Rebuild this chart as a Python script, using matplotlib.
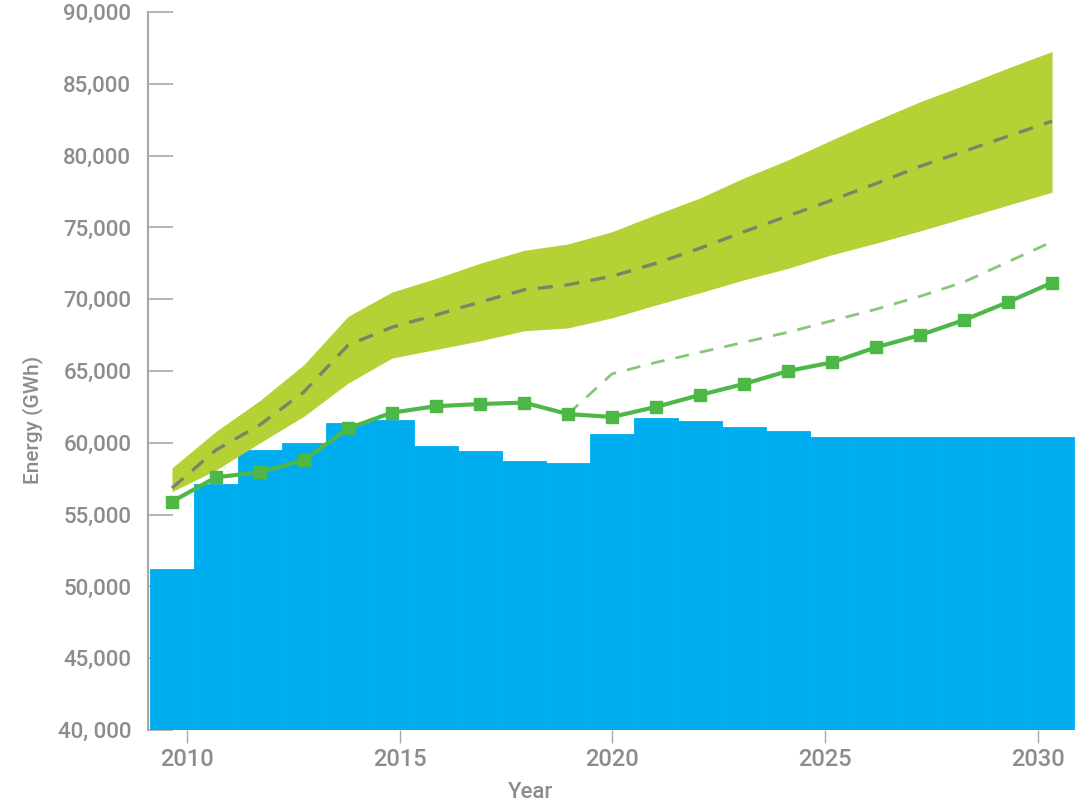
import matplotlib
matplotlib.use("Agg")
import matplotlib.pyplot as plt
import numpy as np

# ---------------- data ----------------
years = list(range(2010, 2031))

# blue stepped bars (supply)
bar_values = [51200, 57100, 59500, 60000, 61400, 61600, 59800, 59400, 58700, 58600,
              60600, 61700, 61500, 61100, 60800, 60400, 60400, 60400, 60400, 60400, 60400]

# green line with square markers
line_values = [55900, 57600, 57950, 58800, 61000, 62100, 62550, 62700, 62800, 62000,
               61800, 62500, 63330, 64100, 65000, 65600, 66650, 67500, 68550, 69800, 71150]

# light green dashed projection (from 2019)
proj_years = list(range(2019, 2031))
proj_values = [62000, 64800, 65600, 66300, 67000, 67700, 68500, 69300, 70200, 71200, 72600, 74000]

# band (range) and its central dashed line
band_upper = [58250, 60800, 62950, 65450, 68800, 70500, 71450, 72500, 73400, 73850,
              74700, 75900, 77050, 78450, 79700, 81100, 82450, 83750, 84900, 86100, 87250]
band_lower = [56600, 58100, 60000, 61850, 64150, 65900, 66500, 67100, 67800, 68000,
              68700, 69600, 70450, 71350, 72150, 73100, 73900, 74750, 75650, 76550, 77450]
band_mid = [56850, 59500, 61250, 63550, 66800, 68050, 68900, 69800, 70650, 71000,
            71600, 72500, 73550, 74700, 75800, 76900, 78050, 79250, 80300, 81350, 82400]

y_ticks = [40000, 45000, 50000, 55000, 60000, 65000, 70000, 75000, 80000, 85000, 90000]
y_tick_labels = ["40, 000", "45,000", "50,000", "55,000", "60,000", "65,000",
                 "70,000", "75,000", "80,000", "85,000", "90,000"]
x_tick_labels = ["2010", "2015", "2020", "2025", "2030"]

# ---------------- style ----------------
BLUE = "#00AEEF"
BAND = "#B4D236"
LINE_GREEN = "#4DB848"
PROJ_GREEN = "#86C77A"
MID_GRAY = "#7A8468"
TEXT_GRAY = "#8C8C8C"
AXIS_GRAY = "#A8A8A8"

plt.rcParams['font.family'] = ['Roboto', 'DejaVu Sans']

fig = plt.figure(figsize=(10.78, 8.07), dpi=100)
ax = fig.add_axes([148 / 1078, 77 / 807, 930 / 1078, 718 / 807])
ax.set_axisbelow(True)

# bars
ax.bar(years, bar_values, width=1.0, color=BLUE, edgecolor=BLUE, linewidth=0.6, zorder=1)

# band
ax.fill_between(years, band_lower, band_upper, color=BAND, linewidth=0, zorder=2)
ax.plot(years, band_mid, color=MID_GRAY, linewidth=2.4, dashes=(4.5, 3.5), zorder=3)

# projection dashed
ax.plot(proj_years, proj_values, color=PROJ_GREEN, linewidth=2.0, dashes=(5, 4), zorder=3)

# main line
ax.plot(years, line_values, color=LINE_GREEN, linewidth=3.0, marker='s', markersize=9,
        markerfacecolor=LINE_GREEN, markeredgecolor=LINE_GREEN, zorder=4)

# axes limits
ax.set_xlim(2009.455, 2030.59)
ax.set_ylim(40000, 90000)

# y axis
ax.set_yticks(y_ticks)
ax.set_yticklabels(y_tick_labels, fontweight='medium')
ax.tick_params(axis='y', direction='in', length=18, width=1.2, color=AXIS_GRAY,
               labelsize=16, labelcolor=TEXT_GRAY, pad=12)

# x axis ticks (label positions as drawn in the original artwork)
tick_years = np.array([int(t) for t in x_tick_labels])
tick_pos = 2010.34 + (tick_years - 2010) * 0.967
ax.set_xticks(tick_pos)
ax.set_xticklabels(x_tick_labels, fontweight='medium')
ax.tick_params(axis='x', direction='out', length=9, width=1.0, color=AXIS_GRAY,
               labelsize=17, labelcolor=TEXT_GRAY, pad=4)

for s in ['top', 'right', 'bottom']:
    ax.spines[s].set_visible(False)
ax.spines['left'].set_color(AXIS_GRAY)
ax.spines['left'].set_linewidth(1.5)
ax.spines['left'].set_zorder(0.5)

ax.set_ylabel("Energy (GWh)", color=TEXT_GRAY, fontsize=15, fontweight='medium')
ax.yaxis.set_label_coords(-0.113, (807 - 420 - 77) / 718)
ax.set_xlabel("Year", color=TEXT_GRAY, fontsize=16, fontweight='medium')
ax.xaxis.set_label_coords((531 - 148) / 930, -0.072)

fig.savefig("out.png", dpi=100)
